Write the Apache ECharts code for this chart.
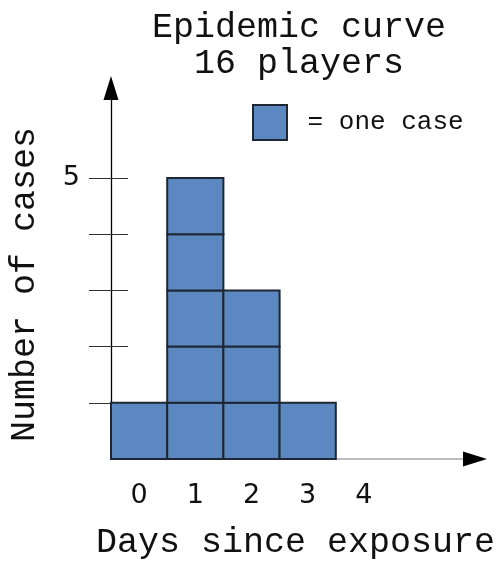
<!DOCTYPE html>
<html>
<head>
<meta charset="utf-8">
<script src="https://cdn.jsdelivr.net/npm/echarts@6/dist/echarts.min.js"></script>
<style>html,body{margin:0;padding:0;background:#fff}#c{width:501px;height:563px}</style>
</head>
<body>
<div id="c"></div>
<script>
// Data
const days = ['0', '1', '2', '3', '4'];
const cases = [1, 5, 3, 1, 0];
const yTickValues = [1, 2, 3, 4, 5];
const yLabelValues = [5];
const titleText = 'Epidemic curve\n16 players';
const legendName = 'one case';

const mono = '"Liberation Mono", "Courier New", monospace';
const sans = '"DejaVu Sans", Verdana, sans-serif';

// build unit boxes: [dayIndex, level]
const boxes = [];
cases.forEach((n, i) => { for (let k = 0; k < n; k++) boxes.push([i, k]); });

const chart = echarts.init(document.getElementById('c'), null, {renderer: 'canvas'});
const gridLeft = 111, gridBottom = 104, gridTop = 88, gridRight = 21;
const unit = 56.2;
const xMax = (501 - gridLeft - gridRight) / unit;
const yMax = (563 - gridBottom - gridTop) / unit;

chart.setOption({
  animation: false,
  title: {
    text: titleText,
    left: 294, top: 5, textAlign: 'center',
    textStyle: {fontFamily: mono, fontSize: 35, fontWeight: 'normal', color: '#111', lineHeight: 36}
  },
  legend: {
    left: 252, top: 104, padding: 0,
    itemWidth: 34, itemHeight: 35,
    formatter: () => ' = ' + legendName,
    textStyle: {fontFamily: mono, fontSize: 26, color: '#111'},
    data: [{name: legendName, icon: 'rect', itemStyle: {color: '#5b88c1', borderColor: '#1e2733', borderWidth: 2}}]
  },
  grid: {left: gridLeft, right: gridRight, top: gridTop, bottom: gridBottom, outerBoundsMode: 'none', containLabel: false},
  xAxis: [{
    type: 'value', min: 0, max: xMax,
    splitLine: {show: false},
    axisTick: {show: false},
    axisLine: {show: true, lineStyle: {color: '#bdbdbd', width: 2}},
    axisLabel: {
      customValues: days.map((d, i) => i + 0.5),
      formatter: v => days[Math.floor(v)],
      fontFamily: sans, fontSize: 27, color: '#111', margin: 23
    },
    name: 'Days since exposure', nameLocation: 'middle', nameGap: 66,
    nameTextStyle: {fontFamily: mono, fontSize: 35, color: '#111'}
  }, {
    type: 'value', min: 0, max: xMax, position: 'bottom',
    splitLine: {show: false}, axisTick: {show: false}, axisLabel: {show: false},
    axisLine: {show: true, symbol: ['none', 'triangle'], symbolSize: [15, 24], symbolOffset: [0, -5],
      lineStyle: {color: '#000', width: 0}}
  }],
  yAxis: [{
    type: 'value', min: 0, max: yMax,
    splitLine: {show: false},
    axisLine: {show: true, symbol: ['none', 'triangle'], symbolSize: [15, 24], symbolOffset: [0, 0],
      lineStyle: {color: '#000', width: 1.3}},
    axisTick: {show: true, customValues: yTickValues, length: 22, lineStyle: {color: '#333', width: 1}},
    axisLabel: {customValues: yLabelValues, fontFamily: sans, fontSize: 27, color: '#111', margin: 31},
    name: 'Number of cases', nameLocation: 'middle', nameGap: 69, nameRotate: 90,
    nameTextStyle: {fontFamily: mono, fontSize: 35, color: '#111', padding: [0, 22, 0, 0]}
  }, {
    type: 'value', min: 0, max: yMax, position: 'left',
    splitLine: {show: false}, axisLine: {show: false}, axisLabel: {show: false},
    axisTick: {show: true, inside: true, customValues: yTickValues, length: 17, lineStyle: {color: '#333', width: 1}}
  }],
  series: [{
    name: legendName,
    type: 'custom',
    xAxisIndex: 0, yAxisIndex: 0,
    data: boxes,
    renderItem: function (params, api) {
      const i = api.value(0), k = api.value(1);
      const p0 = api.coord([i, k]);
      const p1 = api.coord([i + 1, k + 1]);
      return {
        type: 'rect',
        shape: {x: p0[0], y: p1[1], width: p1[0] - p0[0], height: p0[1] - p1[1]},
        style: {fill: '#5b88c1', stroke: '#1e2733', lineWidth: 2},
        z2: 5
      };
    },
    itemStyle: {color: '#5b88c1'}
  }]
});
</script>
</body>
</html>
